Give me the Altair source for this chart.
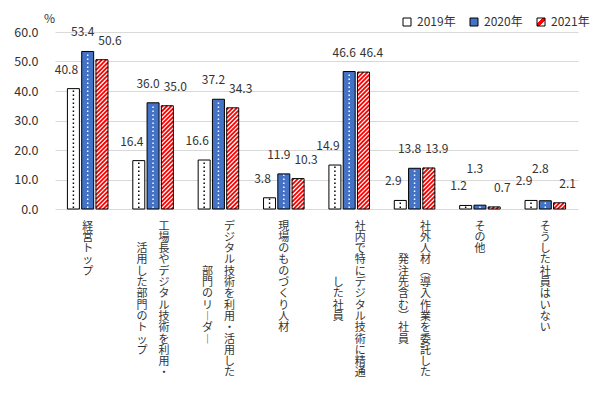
import json
import altair as alt
import pandas as pd

# ---------------- data ----------------
cats = [
    "経営トップ",
    "工場長やデジタル技術を利用・活用した部門のトップ",
    "デジタル技術を利用・活用した部門のリーダー",
    "現場のものづくり人材",
    "社内で特にデジタル技術に精通した社員",
    "社外人材（導入作業を委託した発注先含む）社員",
    "その他",
    "そうした社員はいない",
]
years = ["2019年", "2020年", "2021年"]
v2019 = [40.8, 16.4, 16.6, 3.8, 14.9, 2.9, 1.2, 2.9]
v2020 = [53.4, 36.0, 37.2, 11.9, 46.6, 13.8, 1.3, 2.8]
v2021 = [50.6, 35.0, 34.3, 10.3, 46.4, 13.9, 0.7, 2.1]

# vertical label columns: (first column, second column, leading offset of second column in chars)
label_cols = [
    ("経営トップ", "", 0),
    ("工場長やデジタル技術を利用・", "活用した部門のトップ", 2),
    ("デジタル技術を利用・活用した", "部門のリーダー", 4),
    ("現場のものづくり人材", "", 0),
    ("社内で特にデジタル技術に精通", "した社員", 5),
    ("社外人材（導入作業を委託した", "発注先含む）社員", 3),
    ("その他", "", 0),
    ("そうした社員はいない", "", 0),
]

SP = "\u3000"
ZW = "\u200b"
VERT = str.maketrans({"ー": "︱", "（": "︵", "）": "︶"})


def vertical_lines(c1, c2, pad):
    c1 = c1.translate(VERT)
    c2 = c2.translate(VERT)
    if not c2:
        return list(c1)
    out = []
    for i, ch in enumerate(c1):
        j = i - pad
        left = c2[j] if 0 <= j < len(c2) else SP
        out.append(ZW + left + SP + ch + ZW)
    return out


label_expr = "datum.label"
for cat, (c1, c2, pad) in reversed(list(zip(cats, label_cols))):
    label_expr = (
        f"datum.value == {json.dumps(cat, ensure_ascii=False)} ? "
        f"{json.dumps(vertical_lines(c1, c2, pad), ensure_ascii=False)} : ({label_expr})"
    )

df = pd.DataFrame(
    {
        "cat": cats * 3,
        "year": [y for y in years for _ in cats],
        "value": v2019 + v2020 + v2021,
    }
)

TXT = "#333333"
FONT = "Noto Sans CJK JP"
DOT_STEP = 1.356     # pattern spacing in value units
STRIPE_P = 1.458

GRAD = (
    "{gradient: 'linear', x1: 0, y1: 0, x2: 1, y2: 1, stops: ["
    "{offset: 0, color: '#ffffff'}, {offset: 0.36, color: '#ffffff'},"
    "{offset: 0.36, color: '#ff0000'}, {offset: 0.64, color: '#ff0000'},"
    "{offset: 0.64, color: '#ffffff'}, {offset: 1, color: '#ffffff'}]}"
)

X = alt.X(
    "cat:N",
    sort=cats,
    scale=alt.Scale(paddingInner=0.38, paddingOuter=0.19),
    axis=alt.Axis(
        title=None,
        labelExpr=label_expr,
        labelAngle=0,
        labelAlign="center",
        labelBaseline="top",
        labelPadding=11,
        labelFontSize=11,
        labelLineHeight=11.3,
        labelColor=TXT,
        labelOverlap=False,
        labelLimit=0,
        domain=False,
        ticks=False,
        grid=False,
    ),
)
XO = alt.XOffset("year:N", sort=years, scale=alt.Scale(paddingInner=0.16, paddingOuter=0))


def Y(field):
    return alt.Y(
        f"{field}:Q",
        scale=alt.Scale(domain=[0, 60], nice=False, zero=True),
        axis=alt.Axis(
            title="%",
            titleAngle=0,
            titleX=-6,
            titleY=-14,
            titleAlign="center",
            titleBaseline="middle",
            titleFontSize=12,
            titleFontWeight="normal",
            titleColor=TXT,
            values=[0, 10, 20, 30, 40, 50, 60],
            format=".1f",
            labelFontSize=12.5,
            labelColor=TXT,
            labelPadding=17,
            domain=False,
            ticks=False,
            grid=True,
            gridColor="#d9d9d9",
            gridWidth=1,
        ),
    )


base = alt.Chart(df)

fill_layer = (
    base.transform_filter("datum.year != '2021年'")
    .mark_bar()
    .encode(
        x=X,
        xOffset=XO,
        y=Y("value"),
        fill=alt.Fill(
            "year:N",
            scale=alt.Scale(domain=years, range=["#ffffff", "#4472C4", {"expr": GRAD}]),
            legend=alt.Legend(
                orient="none",
                legendX=346,
                legendY=-16,
                direction="horizontal",
                title=None,
                symbolType="square",
                symbolSize=64,
                symbolStrokeColor="#000000",
                symbolStrokeWidth=1,
                labelFontSize=12,
                labelColor=TXT,
                columnPadding=12,
                labelOffset=4,
                padding=0,
            ),
        ),
    )
)

white21 = (
    base.transform_filter("datum.year == '2021年'")
    .mark_bar(color="#ffffff")
    .encode(x=X, xOffset=XO, y=Y("value"))
)

# dotted pattern for 2019 / 2020
dots_base = (
    base.transform_filter("datum.year != '2021年'")
    .transform_calculate(k=f"sequence(0, ceil(datum.value / {DOT_STEP}) + 1)")
    .transform_flatten(["k"])
    .transform_calculate(ys=f"0.6 + datum.k * {DOT_STEP}")
    .transform_filter("datum.ys <= datum.value - 0.4")
    .transform_calculate(
        value="datum.ys",
        dc="datum.year == '2019年' ? '#000000' : '#ffffff'",
        par="datum.k % 2",
    )
)
dot_layers = [
    dots_base.transform_filter(f"datum.par == {p}")
    .mark_square(size=2.2, opacity=1, dx=dx)
    .encode(x=X, xOffset=XO, y=Y("value"), color=alt.Color("dc:N", scale=None))
    for p, dx in [(0, -2.3), (1, 2.3)]
]

# diagonal hatch for 2021
stripe_base = (
    base.transform_filter("datum.year == '2021年'")
    .transform_calculate(k=f"sequence(-1, ceil(datum.value / {STRIPE_P}) + 3)")
    .transform_flatten(["k"])
    .transform_calculate(value=f"datum.value - datum.k * {STRIPE_P}")
    .transform_filter("datum.value > -4")
)
stripe_shapes = [
    ("datum.k == -1", "M-1,1L-0.717,0.717"),
    ("datum.k == 0", "M-1,1L0,0"),
    ("datum.k == 1", "M-1,1L0.717,-0.717"),
    ("datum.k >= 2", "M-1,1L1,-1"),
]
stripe_layers = [
    stripe_base.transform_filter(cond)
    .mark_point(
        shape=path,
        filled=False,
        color="#ff0000",
        strokeWidth=1.8,
        strokeCap="butt",
        size=144,
        opacity=1,
        clip=True,
    )
    .encode(x=X, xOffset=XO, y=Y("value"))
    for cond, path in stripe_shapes
]

outline = base.mark_bar(fillOpacity=0, stroke="#000000", strokeWidth=1).encode(
    x=X, xOffset=XO, y=Y("value")
)

label_layers = []
for yr, dx in zip(years, [-7, -5, 8]):
    lift = "max(datum.value, 7)" if yr == "2020年" else "datum.value"
    label_layers.append(
        base.transform_filter(f"datum.year == '{yr}'")
        .transform_calculate(ly=lift)
        .mark_text(fontSize=12, color=TXT, baseline="middle", dy=-19, dx=dx)
        .encode(x=X, xOffset=XO, y=Y("ly"), text=alt.Text("value:Q", format=".1f"))
    )

chart = (
    alt.layer(fill_layer, white21, *dot_layers, *stripe_layers, outline, *label_layers)
    .properties(
        width=523,
        height=177,
        autosize=alt.AutoSizeParams(type="none"),
        padding={"left": 47, "top": 24, "right": 15, "bottom": 176},
    )
    .configure(font=FONT)
    .configure_view(strokeWidth=0)
)

chart.save("out.html", embed_options={"renderer": "svg", "actions": False})
